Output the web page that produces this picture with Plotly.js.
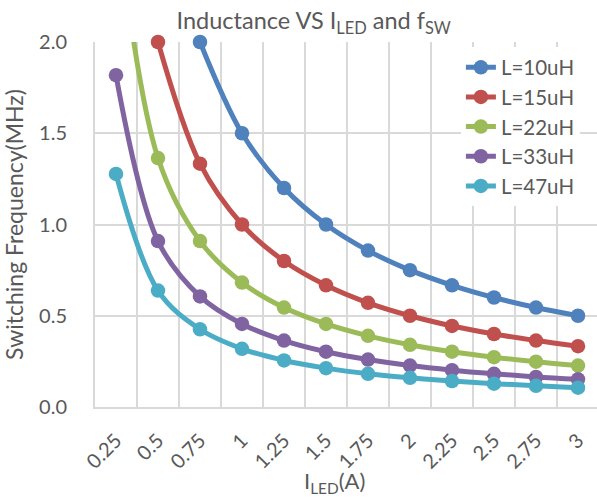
<!DOCTYPE html>
<html>
<head>
<meta charset="utf-8">
<script src="https://cdn.plot.ly/plotly-3.0.1.min.js"></script>
<style>
html,body{margin:0;padding:0;overflow:hidden;background:#fff;}
#chart{width:601px;height:502px;}
</style>
</head>
<body>
<div id="chart"></div>
<script>
var currents = ["0.25","0.5","0.75","1","1.25","1.5","1.75","2","2.25","2.5","2.75","3"];
var L10 = [null, null, 2.0, 1.5, 1.2, 1.0, 0.857, 0.75, 0.667, 0.6, 0.545, 0.5];
var L15 = [null, 2.0, 1.333, 1.0, 0.8, 0.667, 0.571, 0.5, 0.444, 0.4, 0.364, 0.333];
var L22 = [2.727, 1.364, 0.909, 0.682, 0.545, 0.455, 0.390, 0.341, 0.303, 0.273, 0.248, 0.227];
var L33 = [1.818, 0.909, 0.606, 0.455, 0.364, 0.303, 0.260, 0.227, 0.202, 0.182, 0.165, 0.152];
var L47 = [1.277, 0.638, 0.426, 0.319, 0.255, 0.213, 0.182, 0.160, 0.142, 0.128, 0.116, 0.106];
var seriesNames = ["L=10uH","L=15uH","L=22uH","L=33uH","L=47uH"];
var seriesValues = [L10, L15, L22, L33, L47];
var colors = ["#4F81BD","#C0504D","#9BBB59","#8064A2","#4BACC6"];

var FONT = "Lato, 'Open Sans', sans-serif";
var traces = seriesValues.map(function(v, i){
  return {
    type: "scatter", mode: "lines+markers",
    x: currents, y: v, name: seriesNames[i],
    legendgroup: "g"+i,
    line: {color: colors[i], width: 5, shape: "spline", smoothing: 1},
    marker: {color: colors[i], size: 14.5},
    cliponaxis: (v[0] !== null && v[0] > 2) ? true : false,
    connectgaps: false
  };
});

var layout = {
  width: 601, height: 502,
  margin: {l: 95, r: 2, t: 42, b: 95},
  paper_bgcolor: "#ffffff", plot_bgcolor: "#ffffff",
  font: {family: FONT, color: "#595959", size: 20},
  title: {text: "Inductance VS I<sub>LED</sub> and f<sub>SW</sub>", x: 0.522, xanchor: "center", y: 0.958, yanchor: "middle",
          font: {family: FONT, size: 23.5, color: "#595959"}},
  showlegend: true,
  legend: {x: 0.726, y: 0.985, xanchor: "left", yanchor: "top", bgcolor: "#ffffff",
           font: {family: FONT, size: 20.5, color: "#595959"}, tracegroupgap: 5, traceorder: "normal"},
  xaxis: {type: "category", range: [-0.5, 11.5], tickson: "boundaries", showgrid: true, gridcolor: "#d9d9d9", gridwidth: 2,
          showline: true, linecolor: "#d9d9d9", linewidth: 2, ticks: "", tickangle: -45,
          ticklabelstandoff: 12,
          tickfont: {family: FONT, size: 20, color: "#595959"},
          automargin: false, fixedrange: true},
  yaxis: {range: [0, 2], dtick: 0.5, tickformat: ".1f", showgrid: true, gridcolor: "#d9d9d9", gridwidth: 2,
          zeroline: true, zerolinecolor: "#d9d9d9", zerolinewidth: 2, showline: true, linecolor: "#d9d9d9", linewidth: 2, ticks: "",
          ticklabelstandoff: 22,
          tickfont: {family: FONT, size: 20, color: "#595959"},
          title: {text: "Switching Frequency(MHz)", font: {family: FONT, size: 23, color: "#595959"}, standoff: 14},
          automargin: false, fixedrange: true},
  annotations: [{text: "I<sub>LED</sub>(A)", xref: "paper", yref: "paper", x: 0.476, y: -0.205,
                 xanchor: "center", yanchor: "middle", showarrow: false,
                 font: {family: FONT, size: 22, color: "#595959"}}]
};

Plotly.newPlot("chart", traces, layout, {displayModeBar: false, staticPlot: true});
</script>
</body>
</html>
